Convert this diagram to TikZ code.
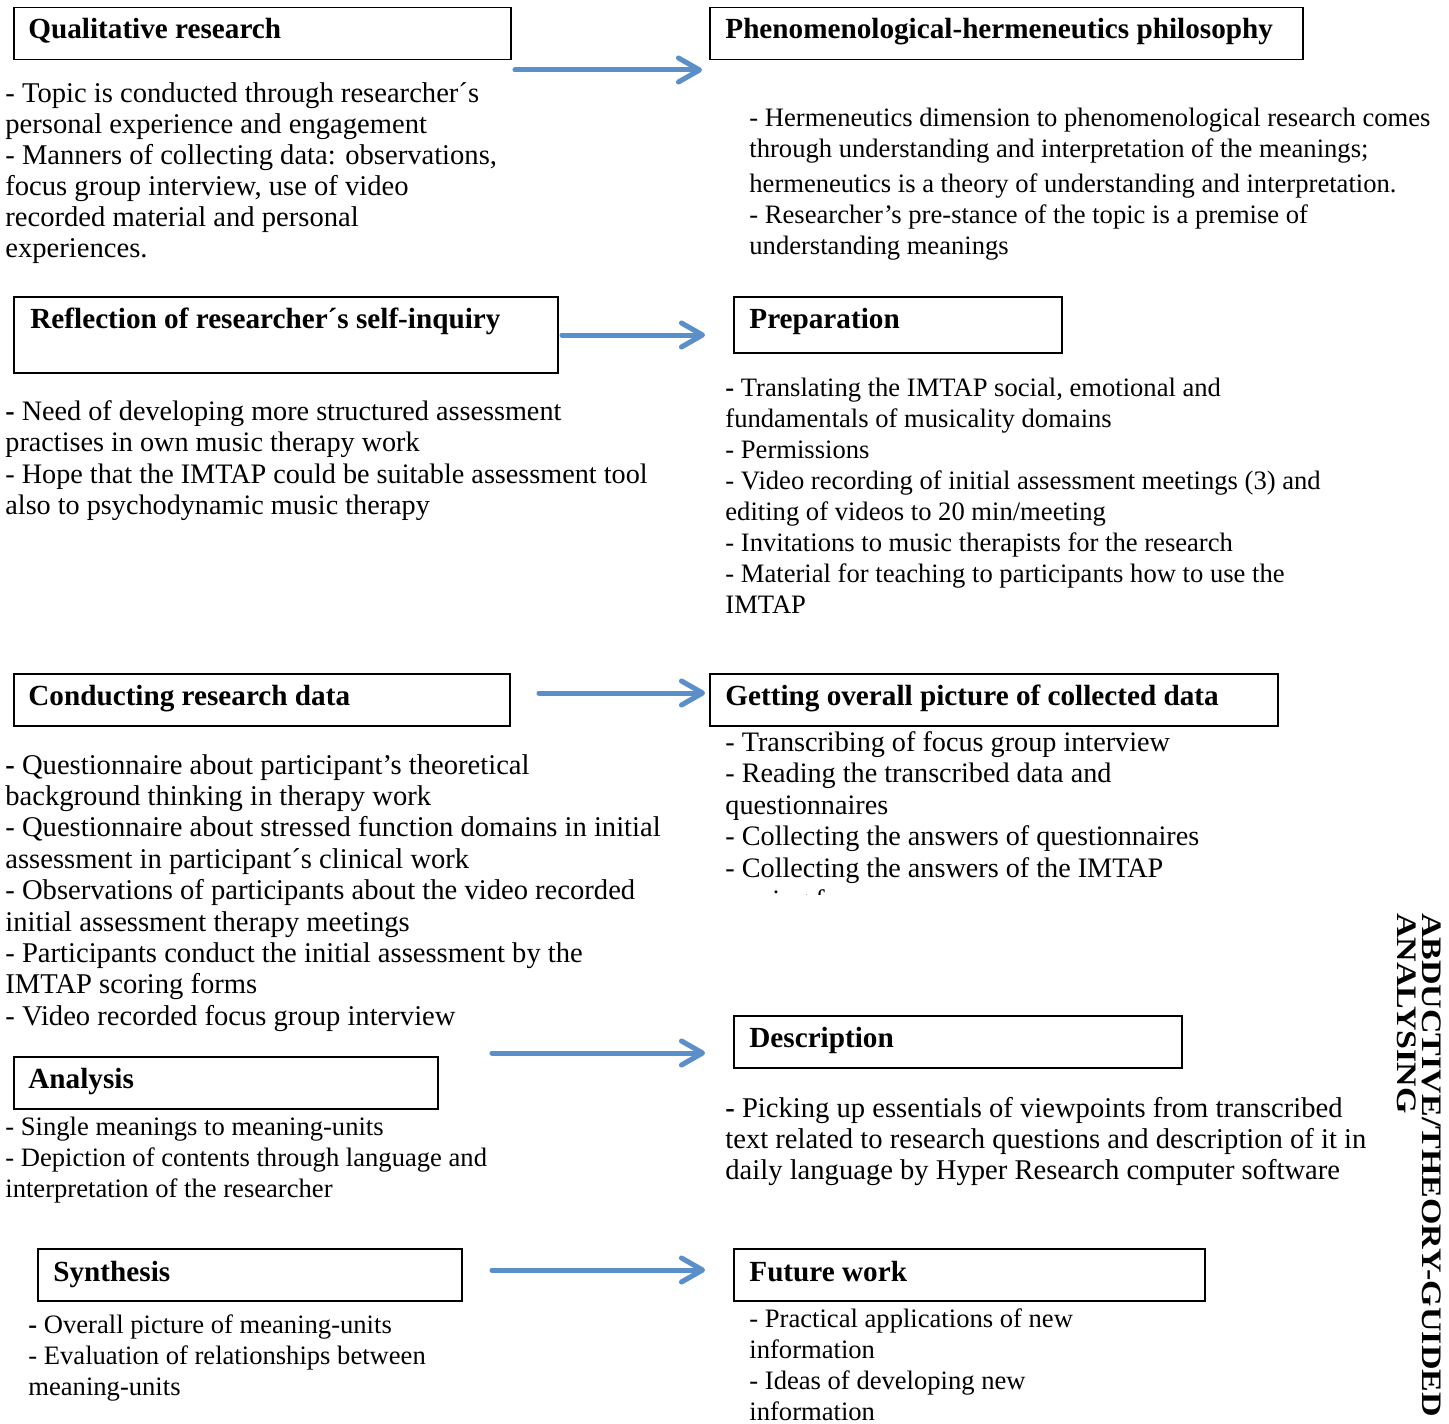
\documentclass[tikz,border=0pt]{standalone}
\usepackage{fontspec}
\usepackage{graphicx}
\setmainfont{Liberation Serif}
\usetikzlibrary{arrows.meta}
\definecolor{arrowblue}{RGB}{90,143,201}
\newcommand\txtblock[1]{\begin{tabular}[t]{@{}l@{}}#1\end{tabular}}
\newcommand\bdash{\textbf{-}}
\tikzset{
  x=0.5pt, y=-0.5pt,
  box/.style={draw=black, line width=0.75pt, inner sep=0pt, anchor=north west},
  title/.style={anchor=base west, inner sep=0pt, font=\fontsize{14.6}{16}\selectfont\bfseries},
  body/.style={anchor=base west, inner sep=0pt, font=\fontsize{13.3}{15.5}\selectfont},
  bodya/.style={anchor=base west, inner sep=0pt, font=\fontsize{14.3}{15.5}\selectfont},
  bodyc/.style={anchor=base west, inner sep=0pt, font=\fontsize{14.1}{15.8}\selectfont},
  bodyd/.style={anchor=base west, inner sep=0pt, font=\fontsize{14.3}{15.7}\selectfont},
  flow/.style={draw=arrowblue, line width=2.5pt, line cap=round,
    -{Straight Barb[length=10.5pt,width=12pt,line cap=round,line join=round]}},
  flowshadow/.style={draw=black!35, opacity=0.45, line width=2.5pt, line cap=round,
    -{Straight Barb[length=10.5pt,width=12pt,line cap=round,line join=round]},
    xshift=0.6pt, yshift=-1.6pt}
}
\begin{document}
\begin{tikzpicture}
\useasboundingbox (0,0) rectangle (1449,1423);

% boxes
\node[box, minimum width=497*0.5pt, minimum height=52*0.5pt] (qbox) at (13,7) {};
\node[box, minimum width=593*0.5pt, minimum height=52*0.5pt] (pbox) at (709,7) {};
\node[box, minimum width=544*0.5pt, minimum height=76*0.5pt] (rbox) at (13,296) {};
\node[box, minimum width=328*0.5pt, minimum height=56*0.5pt] (prbox) at (733,296) {};
\node[box, minimum width=496*0.5pt, minimum height=52*0.5pt] (cbox) at (13,673) {};
\node[box, minimum width=568*0.5pt, minimum height=52*0.5pt] (gbox) at (709,673) {};
\node[box, minimum width=424*0.5pt, minimum height=52*0.5pt] (abox) at (13,1056) {};
\node[box, minimum width=448*0.5pt, minimum height=52*0.5pt] (dbox) at (733,1015) {};
\node[box, minimum width=424*0.5pt, minimum height=52*0.5pt] (sbox) at (37,1248) {};
\node[box, minimum width=471*0.5pt, minimum height=52*0.5pt] (fbox) at (733,1248) {};

% titles
\node[title] (qt) at (28,39) {Qualitative research};
\node[title] (pt) at (725,39) {Phenomenological-hermeneutics philosophy};
\node[title] (rt) at (30,328) {Reflection of researcher´s self-inquiry};
\node[title] (prt) at (749,328) {Preparation};
\node[title] (ct) at (28,705) {Conducting research data};
\node[title] (gt) at (725,705) {Getting overall picture of collected data};
\node[title] (at) at (28,1088) {Analysis};
\node[title] (dt) at (749,1047) {Description};
\node[title] (st) at (53,1281) {Synthesis};
\node[title] (ft) at (749,1281) {Future work};

% body texts
\node[bodya] (qtext) at (5,103) {\txtblock{- Topic is conducted through researcher´s\\
personal experience and engagement\\
- Manners of collecting data: observations,\\
focus group interview, use of video\\
recorded material and personal\\
experiences.}};

\node[body] (ptext) at (749,127) {\txtblock{- Hermeneutics dimension to phenomenological research comes\\
through understanding and interpretation of the meanings;\\[2pt]
hermeneutics is a theory of understanding and interpretation.\\
- Researcher’s pre-stance of the topic is a premise of\\
understanding meanings}};

\node[bodyc] (rtext) at (5,420) {\txtblock{\bdash{} Need of developing more structured assessment\\
practises in own music therapy work\\
- Hope that the IMTAP could be suitable assessment tool\\
also to psychodynamic music therapy}};

\node[body] (prtext) at (725,396) {\txtblock{\bdash{} Translating the IMTAP social, emotional and\\
fundamentals of musicality domains\\
- Permissions\\
- Video recording of initial assessment meetings (3) and\\
editing of videos to 20 min/meeting\\
- Invitations to music therapists for the research\\
- Material for teaching to participants how to use the\\
IMTAP}};

\begin{scope}
\clip (700,720) rectangle (1300,894);
\node[bodyc] (gtext) at (725,751) {\txtblock{- Transcribing of focus group interview\\
- Reading the transcribed data and\\
questionnaires\\
- Collecting the answers of questionnaires\\
- Collecting the answers of the IMTAP\\
scoring forms}};
\end{scope}

\node[bodyd] (ctext) at (5,774) {\txtblock{\bdash{} Questionnaire about participant’s theoretical\\
background thinking in therapy work\\
- Questionnaire about stressed function domains in initial\\
assessment in participant´s clinical work\\
- Observations of participants about the video recorded\\
initial assessment therapy meetings\\
- Participants conduct the initial assessment by the\\
IMTAP scoring forms\\
- Video recorded focus group interview}};

\node[body] (atext) at (5,1135) {\txtblock{- Single meanings to meaning-units\\
- Depiction of contents through language and\\
interpretation of the researcher}};

\node[bodyd] (dtext) at (725,1117) {\txtblock{\bdash{} Picking up essentials of viewpoints from transcribed\\
text related to research questions and description of it in\\
daily language by Hyper Research computer software}};

\node[body] (stext) at (28,1333) {\txtblock{\bdash{} Overall picture of meaning-units\\
- Evaluation of relationships between\\
meaning-units}};

\node[body] (ftext) at (749,1327) {\txtblock{- Practical applications of new\\
information\\
- Ideas of developing new\\
information}};

% vertical label
\node[inner sep=0pt, rotate=-90,
  font=\fontsize{17}{12}\selectfont\bfseries] (side) at (1416,1165)
  {\scalebox{1}[0.83]{\begin{tabular}{@{}l@{}}ABDUCTIVE/THEORY-GUIDED\\ANALYSING\end{tabular}}};

% arrows
\coordinate (a1s) at (515,70);  \coordinate (a1e) at (702,70);
\coordinate (a2s) at (562,335); \coordinate (a2e) at (705,335);
\coordinate (a3s) at (539,693); \coordinate (a3e) at (705,693);
\coordinate (a4s) at (492,1053);\coordinate (a4e) at (705,1053);
\coordinate (a5s) at (492,1270);\coordinate (a5e) at (705,1270);
\foreach \s/\e in {a1s/a1e,a2s/a2e,a3s/a3e,a4s/a4e,a5s/a5e}{
  \draw[flowshadow] (\s) -- (\e);
  \draw[flow] (\s) -- (\e);
}
\end{tikzpicture}
\end{document}
